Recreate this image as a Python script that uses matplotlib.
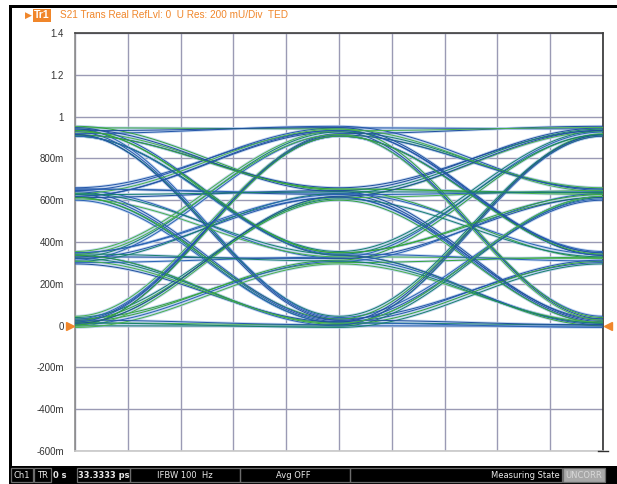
import numpy as np
import matplotlib
matplotlib.use("Agg")
import matplotlib.pyplot as plt
from matplotlib.patches import Rectangle
from matplotlib.lines import Line2D
from matplotlib.collections import LineCollection

# ---- data -------------------------------------------------------------
# PAM4 amplitude levels (U)
levels = [0.015, 0.325, 0.630, 0.930]
# small post-/pre-cursor ISI coefficients (fraction of neighbour offset)
isi_post = 0.045
isi_pre = 0.02
# transmitted PAM4 symbol stream
symbols = [0, 3, 1, 2, 0, 0, 3, 3, 2, 1, 0, 2, 3, 0, 1, 1, 3, 2, 2, 0,
           1, 3, 0, 3, 2, 3, 1, 0, 0, 2, 2, 3, 3, 0, 2, 1, 1, 2, 0, 3,
           1, 3, 3, 1, 0, 1, 2, 3, 2, 0, 2, 0, 0, 1, 0, 3, 2, 2, 1, 3,
           0, 0, 3, 1, 1, 0, 2, 3, 1, 2, 2, 2]
unit_interval_ps = 16.66667
span_ps = 33.3333
y_ticks = [-0.6, -0.4, -0.2, 0.0, 0.2, 0.4, 0.6, 0.8, 1.0, 1.2, 1.4]
y_labels = ["-600m", "-400m", "-200m", "0", "200m", "400m", "600m",
            "800m", "1", "1.2", "1.4"]

W, H = 617, 484
fig = plt.figure(figsize=(W / 100, H / 100), dpi=100)
fig.patch.set_facecolor("white")
FONT = "Liberation Sans"
ORANGE = "#f0862a"


def fx(x):
    return x / W


def fy(y):
    return 1 - y / H


ax = fig.add_axes([fx(75), fy(451), fx(603) - fx(75), fy(33) - fy(451)])
ax.set_xlim(0, span_ps)
ax.set_ylim(-0.6, 1.4)
ax.set_xticks(np.linspace(0, span_ps, 11))
ax.set_xticklabels([])
ax.set_yticks(y_ticks)
ax.set_yticklabels(y_labels, fontsize=7, family=FONT, color="#333333")
ax.tick_params(axis="both", length=0, pad=8)
ax.grid(True, color="#9a9ab4", lw=1.0)
ax.set_axisbelow(True)
for side, col in (("left", "#8c8c8c"), ("top", "#404040"),
                  ("right", "#303030"), ("bottom", "#c8c8c8")):
    ax.spines[side].set_color(col)
    ax.spines[side].set_linewidth(1.2)

# ---- sample values with inter-symbol interference ----------------------
lv = np.array(levels)
mid = lv.mean()
vals = []
for k, s in enumerate(symbols):
    v = lv[s]
    if k > 0:
        v += isi_post * (lv[symbols[k - 1]] - mid)
    if k < len(symbols) - 1:
        v += isi_pre * (lv[symbols[k + 1]] - mid)
    vals.append(v)
vals = np.array(vals)

# raised-cosine transitions between consecutive samples, folded over 2 UI
tt = np.linspace(0, 1, 60)
shape = (1 - np.cos(np.pi * tt)) / 2
core_cols = ["#2456a8", "#34a43c", "#2a62b4", "#17806c", "#48b24a", "#1f4f9c"]
traces, colors = [], []
for k in range(len(vals) - 2):
    seg1 = vals[k] + (vals[k + 1] - vals[k]) * shape
    seg2 = vals[k + 1] + (vals[k + 2] - vals[k + 1]) * shape
    y = np.concatenate([seg1, seg2[1:]])
    x = np.concatenate([tt, 1 + tt[1:]]) * unit_interval_ps
    traces.append(np.column_stack([x, y]))
    colors.append(core_cols[k % len(core_cols)])

ax.add_collection(LineCollection(traces, colors="#b3cbeb", linewidths=2.0,
                                 alpha=0.8, zorder=2))
ax.add_collection(LineCollection(traces, colors=colors, linewidths=0.7,
                                 zorder=3))

# reference-level markers at 0 U
ax.plot([-0.32], [0], marker=">", ms=6, color=ORANGE, clip_on=False,
        zorder=5)
ax.plot([span_ps + 0.32], [0], marker="<", ms=6, color=ORANGE,
        clip_on=False, zorder=5)

# ---- window frame ------------------------------------------------------
fig.add_artist(Rectangle((fx(11), fy(8)), fx(617) - fx(11), fy(5) - fy(8),
                         transform=fig.transFigure, color="black", lw=0))
fig.add_artist(Rectangle((fx(9), fy(466)), fx(3), fy(5) - fy(466),
                         transform=fig.transFigure, color="black", lw=0))
fig.add_artist(Line2D([fx(598), fx(608)], [fy(451), fy(451)],
                      transform=fig.transFigure, color="#303030", lw=1))

# ---- trace header ------------------------------------------------------
fig.text(fx(25), fy(15), "\u25B6", color=ORANGE, fontsize=6.5,
         va="center", ha="left", family="DejaVu Sans")
fig.text(fx(34), fy(15.5), "Tr1", color="white", fontsize=7.5, va="center",
         ha="left", family=FONT, weight="bold",
         bbox=dict(boxstyle="square,pad=0.12", fc=ORANGE, ec="none"))
fig.text(fx(60), fy(15.5),
         "S21 Trans Real RefLvl: 0  U Res: 200 mU/Div  TED",
         color=ORANGE, fontsize=7.2, va="center", ha="left", family=FONT)

# ---- status bar --------------------------------------------------------
fig.add_artist(Rectangle((fx(9), fy(484)), fx(617) - fx(9), fy(466) - fy(484),
                         transform=fig.transFigure, color="black", lw=0))
boxes = [(11, 33), (34, 51), (77, 130), (130, 240), (240, 350), (350, 562)]
for x0, x1 in boxes:
    fig.add_artist(Rectangle((fx(x0), fy(482)), fx(x1) - fx(x0),
                             fy(468) - fy(482), transform=fig.transFigure,
                             fc="none", ec="#6c6c6c", lw=0.9))
fig.add_artist(Rectangle((fx(563), fy(482)), fx(605) - fx(563),
                         fy(468) - fy(482), transform=fig.transFigure,
                         fc="#a8a8a8", ec="#6c6c6c", lw=0.9))
sb_y = fy(475.5)
sb = dict(fontsize=6.0, va="center", family="DejaVu Sans Condensed",
          color="#e8e8e8")
fig.text(fx(22), sb_y, "Ch1", ha="center", **sb)
fig.text(fx(42.5), sb_y, "TR", ha="center", **sb)
fig.text(fx(53), sb_y, "0 s", ha="left", weight="bold", **sb)
fig.text(fx(129), sb_y, "33.3333 ps", ha="right", weight="bold", **sb)
fig.text(fx(185), sb_y, "IFBW 100  Hz", ha="center", **sb)
fig.text(fx(293), sb_y, "Avg OFF", ha="center", **sb)
fig.text(fx(560), sb_y, "Measuring State", ha="right", **sb)
fig.text(fx(584), sb_y, "UNCORR", ha="center", fontsize=6.0, va="center",
         family="DejaVu Sans Condensed", color="#d8d8d8")

fig.savefig("out.png", dpi=100, facecolor="white")
